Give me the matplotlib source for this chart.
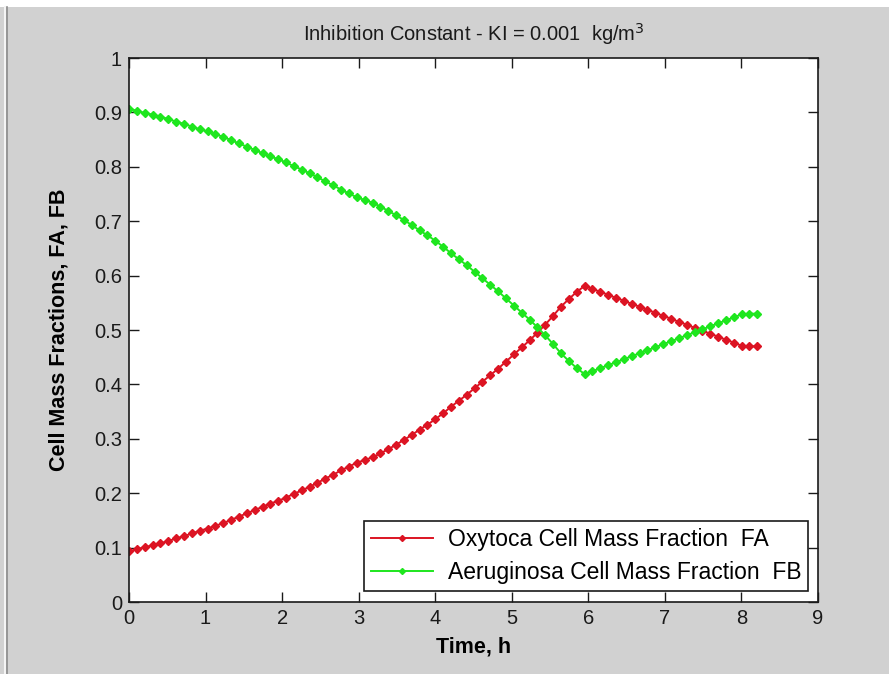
import numpy as np
import matplotlib
matplotlib.use('Agg')
import matplotlib.pyplot as plt
from matplotlib.patches import Rectangle
from matplotlib.lines import Line2D

plt.rcParams['font.family'] = ['Liberation Sans', 'DejaVu Sans']

# time, h (81 output points of the integration)
time_h = [0.000, 0.103, 0.205, 0.308, 0.410, 0.513, 0.616, 0.718, 0.821, 0.923,
          1.026, 1.129, 1.231, 1.334, 1.436, 1.539, 1.642, 1.744, 1.847, 1.949,
          2.052, 2.155, 2.257, 2.360, 2.462, 2.565, 2.668, 2.770, 2.873, 2.975,
          3.078, 3.181, 3.283, 3.386, 3.488, 3.591, 3.694, 3.796, 3.899, 4.001,
          4.104, 4.207, 4.309, 4.412, 4.514, 4.617, 4.720, 4.822, 4.925, 5.027,
          5.130, 5.233, 5.335, 5.438, 5.540, 5.643, 5.746, 5.848, 5.951, 6.053,
          6.156, 6.259, 6.361, 6.464, 6.566, 6.669, 6.772, 6.874, 6.977, 7.079,
          7.182, 7.285, 7.387, 7.490, 7.592, 7.695, 7.798, 7.900, 8.003, 8.105,
          8.208]

# Oxytoca cell mass fraction FA
fa = [0.093, 0.097, 0.101, 0.104, 0.108, 0.112, 0.117, 0.121, 0.126, 0.131,
      0.135, 0.140, 0.145, 0.151, 0.157, 0.163, 0.169, 0.175, 0.181, 0.186,
      0.192, 0.199, 0.205, 0.212, 0.219, 0.227, 0.234, 0.242, 0.249, 0.256,
      0.261, 0.266, 0.273, 0.281, 0.289, 0.298, 0.307, 0.317, 0.326, 0.336,
      0.347, 0.359, 0.370, 0.381, 0.393, 0.405, 0.417, 0.429, 0.442, 0.455,
      0.468, 0.481, 0.495, 0.510, 0.526, 0.543, 0.557, 0.570, 0.581, 0.576,
      0.570, 0.565, 0.559, 0.554, 0.548, 0.543, 0.537, 0.532, 0.526, 0.521,
      0.515, 0.510, 0.504, 0.499, 0.493, 0.488, 0.482, 0.477, 0.471, 0.470,
      0.470]

# Aeruginosa cell mass fraction FB
fb = [0.907, 0.903, 0.899, 0.896, 0.892, 0.888, 0.883, 0.879, 0.874, 0.869,
      0.865, 0.860, 0.855, 0.849, 0.843, 0.837, 0.831, 0.825, 0.819, 0.814,
      0.808, 0.801, 0.795, 0.788, 0.781, 0.773, 0.766, 0.758, 0.751, 0.744,
      0.739, 0.734, 0.727, 0.719, 0.711, 0.702, 0.693, 0.683, 0.674, 0.664,
      0.653, 0.641, 0.630, 0.619, 0.607, 0.595, 0.583, 0.571, 0.558, 0.545,
      0.532, 0.519, 0.505, 0.490, 0.474, 0.457, 0.443, 0.430, 0.419, 0.424,
      0.430, 0.435, 0.441, 0.446, 0.452, 0.457, 0.463, 0.468, 0.474, 0.479,
      0.485, 0.490, 0.496, 0.501, 0.507, 0.512, 0.518, 0.523, 0.529, 0.530,
      0.530]

xticks = list(range(10))
yticks = [0, 0.1, 0.2, 0.3, 0.4, 0.5, 0.6, 0.7, 0.8, 0.9, 1]
ytick_labels = ['0', '0.1', '0.2', '0.3', '0.4', '0.5', '0.6', '0.7', '0.8', '0.9', '1']

bg = '#d1d1d1'
red = '#dc1423'
green = '#1ee61e'

fig = plt.figure(figsize=(8.89, 6.74), dpi=100, facecolor=bg)

# window chrome: white strip on top, border lines on the left
fig.patches.append(Rectangle((0, 1 - 7 / 674), 1, 7 / 674, transform=fig.transFigure,
                             facecolor='white', edgecolor='none'))
fig.lines.append(Line2D([4.5 / 889, 4.5 / 889], [0, 1 - 7 / 674], transform=fig.transFigure,
                        color='#f4f4f4', lw=1.5))
fig.lines.append(Line2D([7 / 889, 7 / 889], [0, 1 - 7 / 674], transform=fig.transFigure,
                        color='#8c8c8c', lw=1.2))

ax = fig.add_axes([129 / 889, 1 - 602 / 674, 689 / 889, 544 / 674])
ax.set_facecolor('white')

ax.plot(time_h, fa, '-', color=red, lw=1.4, marker='D', ms=3.8, mec=red, mfc=red,
        label='Oxytoca Cell Mass Fraction  FA')
ax.plot(time_h, fb, '-', color=green, lw=1.4, marker='D', ms=3.8, mec=green, mfc=green,
        label='Aeruginosa Cell Mass Fraction  FB')

ax.set_xlim(0, 9)
ax.set_ylim(0, 1)
ax.set_xticks(xticks)
ax.set_xticklabels([str(x) for x in xticks])
ax.set_yticks(yticks)
ax.set_yticklabels(ytick_labels)
ax.tick_params(direction='in', length=7, width=1, top=True, right=True,
               labelsize=14.5, colors='#1a1a1a', pad=5)
for s in ax.spines.values():
    s.set_linewidth(1.2)
    s.set_color('#1a1a1a')

ax.set_xlabel('Time, h', fontsize=15.5, fontweight='bold')
ax.xaxis.set_label_coords(0.5, -0.064)
ax.set_ylabel('Cell Mass Fractions, FA, FB', fontsize=15.5, fontweight='bold')
ax.yaxis.set_label_coords(-0.086, 0.5)

ax.text(0.5, 1.044, 'Inhibition Constant - KI = 0.001  kg/m$^3$', transform=ax.transAxes,
        ha='center', va='center', fontsize=14.5, color='#1a1a1a')

leg = ax.legend(loc='lower right', bbox_to_anchor=(0.9855, 0.0202), borderaxespad=0,
                fontsize=16.5, fancybox=False, edgecolor='#1a1a1a', framealpha=1,
                handlelength=2.7, handletextpad=0.65, borderpad=0.3, labelspacing=0.45,
                markerscale=0.8, numpoints=1)
leg.get_frame().set_linewidth(1.2)

plt.savefig('out.png', dpi=100, facecolor=bg)
